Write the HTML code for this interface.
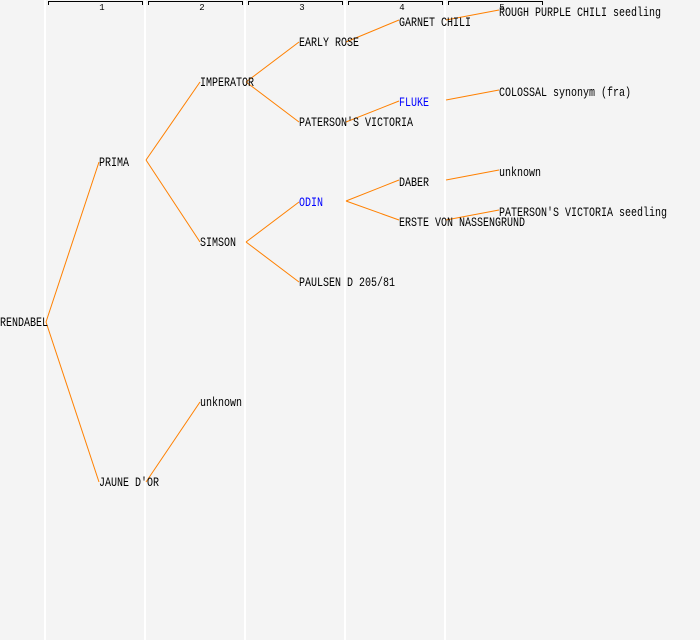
<!DOCTYPE html>
<html><head><style>
html,body{margin:0;padding:0;background:#f4f4f4;}
svg{display:block;}
text{font-family:"Liberation Mono","DejaVu Sans Mono",monospace;font-size:13px;fill:#000;}
</style></head><body>
<svg width="700" height="640" xmlns="http://www.w3.org/2000/svg">
<rect width="700" height="640" fill="#f4f4f4"/>
<g stroke="#fff" stroke-width="2">
<line x1="45" y1="0" x2="45" y2="640"/><line x1="145" y1="0" x2="145" y2="640"/>
<line x1="245" y1="0" x2="245" y2="640"/><line x1="345" y1="0" x2="345" y2="640"/>
<line x1="445" y1="0" x2="445" y2="640"/>
</g>
<g stroke="#000" stroke-width="1" fill="none">
<path d="M48.5 5V1.5H142.5V5"/><path d="M148.5 5V1.5H242.5V5"/><path d="M248.5 5V1.5H342.5V5"/><path d="M348.5 5V1.5H442.5V5"/><path d="M448.5 5V1.5H542.5V5"/>
</g>
<g text-anchor="middle">
<text x="102" y="10" style="font-size:9px">1</text><text x="202" y="10" style="font-size:9px">2</text><text x="302" y="10" style="font-size:9px">3</text><text x="402" y="10" style="font-size:9px">4</text><text x="502" y="10" style="font-size:9px">5</text>
</g>
<g stroke="#ff8000" stroke-width="1" fill="none">
<line x1="46" y1="322" x2="99" y2="162"/><line x1="46" y1="322" x2="99" y2="482"/>
<line x1="146" y1="160" x2="200" y2="82"/><line x1="146" y1="160" x2="200" y2="242"/>
<line x1="146" y1="482" x2="200" y2="402"/>
<line x1="246" y1="82" x2="299" y2="42"/><line x1="246" y1="82" x2="299" y2="122"/>
<line x1="246" y1="242" x2="299" y2="202"/><line x1="246" y1="242" x2="299" y2="282"/>
<line x1="346" y1="42" x2="399" y2="20"/><line x1="346" y1="122" x2="399" y2="101"/>
<line x1="346" y1="201" x2="399" y2="180"/><line x1="346" y1="201" x2="399" y2="220"/>
<line x1="446" y1="20" x2="499" y2="10"/><line x1="446" y1="100" x2="499" y2="90"/>
<line x1="446" y1="180" x2="499" y2="170"/><line x1="446" y1="220" x2="499" y2="210"/>
</g>
<g lengthAdjust="spacingAndGlyphs">
<text x="0" y="326" textLength="48" lengthAdjust="spacingAndGlyphs">RENDABEL</text>
<text x="99" y="166" textLength="30" lengthAdjust="spacingAndGlyphs">PRIMA</text>
<text x="99" y="486" textLength="60" lengthAdjust="spacingAndGlyphs">JAUNE D'OR</text>
<text x="200" y="86" textLength="54" lengthAdjust="spacingAndGlyphs">IMPERATOR</text>
<text x="200" y="246" textLength="36" lengthAdjust="spacingAndGlyphs">SIMSON</text>
<text x="200" y="406" textLength="42" lengthAdjust="spacingAndGlyphs">unknown</text>
<text x="299" y="46" textLength="60" lengthAdjust="spacingAndGlyphs">EARLY ROSE</text>
<text x="299" y="126" textLength="114" lengthAdjust="spacingAndGlyphs">PATERSON'S VICTORIA</text>
<text x="299" y="206" textLength="24" lengthAdjust="spacingAndGlyphs" style="fill:#0000ff">ODIN</text>
<text x="299" y="286" textLength="96" lengthAdjust="spacingAndGlyphs">PAULSEN D 205/81</text>
<text x="399" y="26" textLength="72" lengthAdjust="spacingAndGlyphs">GARNET CHILI</text>
<text x="399" y="106" textLength="30" lengthAdjust="spacingAndGlyphs" style="fill:#0000ff">FLUKE</text>
<text x="399" y="186" textLength="30" lengthAdjust="spacingAndGlyphs">DABER</text>
<text x="399" y="226" textLength="126" lengthAdjust="spacingAndGlyphs">ERSTE VON NASSENGRUND</text>
<text x="499" y="16" textLength="162" lengthAdjust="spacingAndGlyphs">ROUGH PURPLE CHILI seedling</text>
<text x="499" y="96" textLength="132" lengthAdjust="spacingAndGlyphs">COLOSSAL synonym (fra)</text>
<text x="499" y="176" textLength="42" lengthAdjust="spacingAndGlyphs">unknown</text>
<text x="499" y="216" textLength="168" lengthAdjust="spacingAndGlyphs">PATERSON'S VICTORIA seedling</text>
</g>
</svg>
</body></html>
